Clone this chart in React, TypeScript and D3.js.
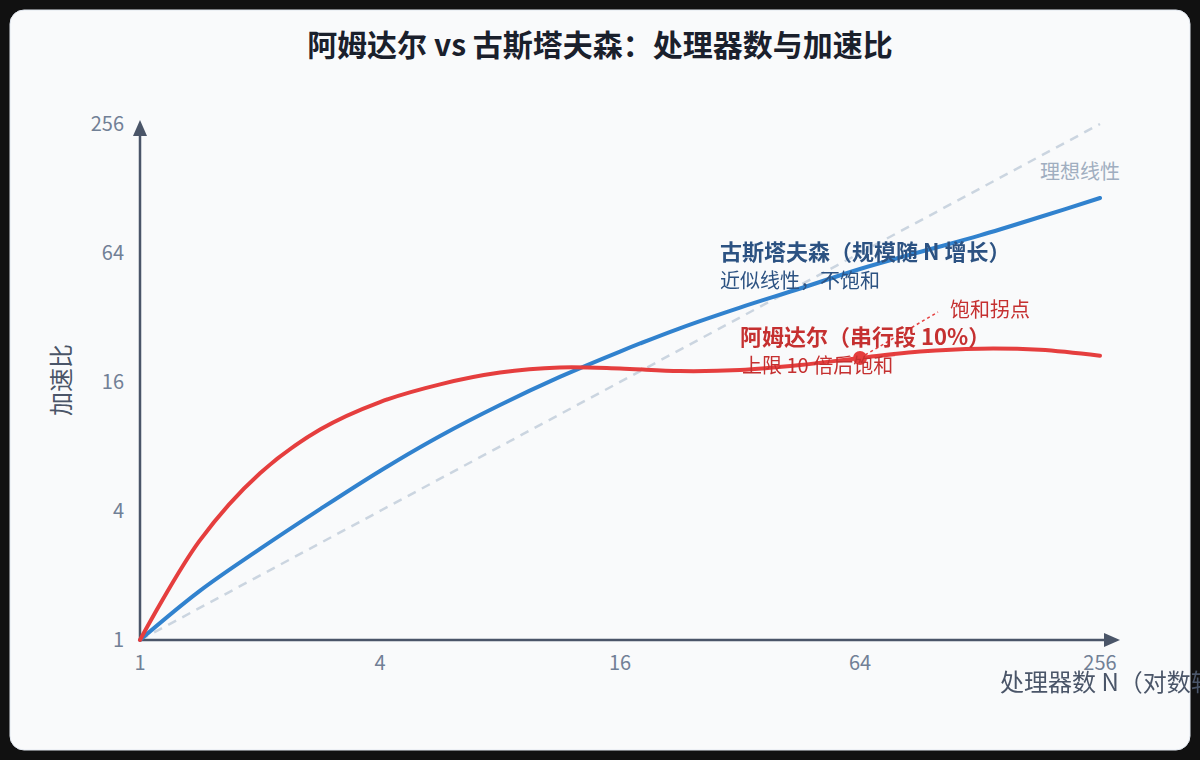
import React from "react";
import * as d3 from "d3";

// ---- data ----
const processorCounts = [1, 1.41, 2, 2.83, 4, 5.66, 8, 11.3, 16, 22.6, 32, 45.3, 64, 90.5, 128, 181, 256];
const amdahlSpeedup = [1, 2.9, 6.0, 9.6, 12.9, 15.6, 17.7, 18.7, 18.5, 18.0, 18.2, 19.2, 20.7, 22.2, 22.9, 22.6, 21.2];
const gustafsonSpeedup = [1, 1.69, 2.66, 4.08, 6.15, 8.96, 12.5, 16.9, 22.2, 28.5, 35.6, 43.7, 53.9, 64.7, 77.3, 94.2, 115.6];
const idealN = [1, 256];
const idealSpeedup = [1, 256];
const xTicks = [1, 4, 16, 64, 256];
const yTicks = [1, 4, 16, 64, 256];
const saturationPoint = { n: 64, s: 20.7 };

const FONT = '"Noto Sans CJK SC", "Noto Sans", "Open Sans", sans-serif';

export default function App() {
  const W = 1200, H = 760;
  const x = d3.scaleLog().base(2).domain([1, 256]).range([140, 1100]);
  const y = d3.scaleLog().base(2).domain([1, 256]).range([640, 124]);

  const smooth = d3
    .line<[number, number]>()
    .x((d) => x(d[0]))
    .y((d) => y(d[1]))
    .curve(d3.curveCatmullRom.alpha(0.5));
  const straight = d3
    .line<[number, number]>()
    .x((d) => x(d[0]))
    .y((d) => y(d[1]));

  const amdahlPts = processorCounts.map((n, i) => [n, amdahlSpeedup[i]] as [number, number]);
  const gustPts = processorCounts.map((n, i) => [n, gustafsonSpeedup[i]] as [number, number]);
  const idealPts = idealN.map((n, i) => [n, idealSpeedup[i]] as [number, number]);

  const x0 = x(1), y0 = y(1);
  const dotX = x(saturationPoint.n), dotY = y(saturationPoint.s);

  return (
    <div style={{ position: "fixed", inset: 0, background: "#111111" }}>
      <svg width={W} height={H} style={{ display: "block", overflow: "visible", fontFamily: FONT }}>
        <rect x={10} y={10} width={1180} height={740} rx={14} fill="#f9fafb" stroke="#e2e8f0" strokeWidth={1} />
        <text x={600} y={56} textAnchor="middle" fontSize={30} fontWeight={700} fill="#1a202c">
          阿姆达尔 vs 古斯塔夫森：处理器数与加速比
        </text>

        {/* ideal */}
        <path d={straight(idealPts) || ""} fill="none" stroke="#cbd5e0" strokeWidth={2.5} strokeDasharray="9 7" />
        <text x={1120} y={179} textAnchor="end" fontSize={20} fill="#a0aec0">理想线性</text>

        {/* axes */}
        <line x1={x0} y1={y0} x2={x0} y2={136} stroke="#4a5568" strokeWidth={2.5} />
        <path d={`M${x0},120 L${x0 - 7},136 L${x0 + 7},136 Z`} fill="#4a5568" />
        <line x1={x0} y1={y0} x2={1105} y2={y0} stroke="#4a5568" strokeWidth={2.5} />
        <path d={`M1120,${y0} L1104,${y0 - 7} L1104,${y0 + 7} Z`} fill="#4a5568" />

        {xTicks.map((t) => (
          <text key={"x" + t} x={x(t)} y={670} textAnchor="middle" fontSize={20} fill="#718096">
            {t}
          </text>
        ))}
        {yTicks.map((t) => (
          <text key={"y" + t} x={124} y={y(t) + 7} textAnchor="end" fontSize={20} fill="#718096">
            {t}
          </text>
        ))}
        <text transform={`translate(70,380) rotate(-90)`} textAnchor="middle" fontSize={24} fill="#4a5568">
          加速比
        </text>
        <text x={1000} y={691} fontSize={24} fill="#4a5568">
          处理器数 N（对数轴）
        </text>

        {/* curves */}
        <path d={smooth(gustPts) || ""} fill="none" stroke="#3182ce" strokeWidth={4} strokeLinecap="round" />
        <path d={smooth(amdahlPts) || ""} fill="none" stroke="#e53e3e" strokeWidth={4} strokeLinecap="round" />

        {/* annotations */}
        <text x={720} y={260} fontSize={22} fontWeight={700} fill="#2c5282">古斯塔夫森（规模随 N 增长）</text>
        <text x={720} y={288} fontSize={20} fill="#2c5282">近似线性，不饱和</text>

        <line x1={dotX} y1={dotY} x2={938} y2={312} stroke="#e53e3e" strokeWidth={1.5} strokeDasharray="3 3" />
        <circle cx={dotX} cy={dotY} r={7} fill="#e53e3e" />
        <text x={950} y={317} fontSize={20} fill="#c53030">饱和拐点</text>
        <text x={740} y={345} fontSize={22} fontWeight={700} fill="#c53030">阿姆达尔（串行段 10%）</text>
        <text x={742} y={373} fontSize={20} fill="#c53030">上限 10 倍后饱和</text>
      </svg>
    </div>
  );
}
